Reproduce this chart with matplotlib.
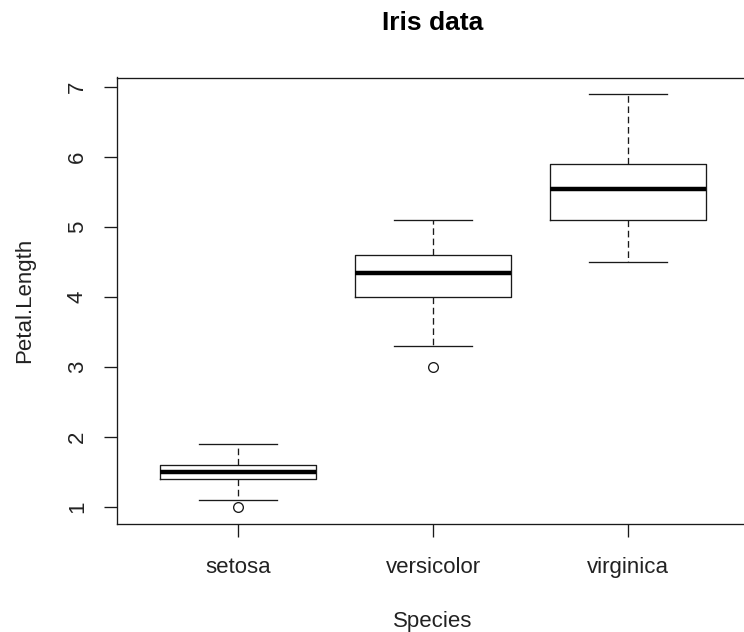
import matplotlib
matplotlib.use("Agg")
import matplotlib.pyplot as plt

species = ["setosa", "versicolor", "virginica"]
whislo = [1.1, 3.3, 4.5]
q1 = [1.4, 4.0, 5.1]
med = [1.5, 4.35, 5.55]
q3 = [1.6, 4.6, 5.9]
whishi = [1.9, 5.1, 6.9]
fliers = [[1.0], [3.0], []]
yticks = [1, 2, 3, 4, 5, 6, 7]

plt.rcParams['font.family'] = ['Liberation Sans', 'DejaVu Sans']

W, H = 744, 632
fig = plt.figure(figsize=(W / 100, H / 100), dpi=100)
left, right, top, bottom = 117, 749, 77.5, 523.5
ax = fig.add_axes([left / W, 1 - bottom / H, (right - left) / W, (bottom - top) / H])

stats = []
for i, s in enumerate(species):
    stats.append(dict(label=s, whislo=whislo[i], q1=q1[i], med=med[i], q3=q3[i],
                      whishi=whishi[i], fliers=fliers[i]))

lc = '#1a1a1a'
lw = 0.95
ax.bxp(stats, positions=[1, 2, 3], widths=0.8, showfliers=True, patch_artist=False,
       boxprops=dict(color=lc, linewidth=lw),
       medianprops=dict(color='black', linewidth=3.2, solid_capstyle='butt'),
       whiskerprops=dict(color=lc, linewidth=lw, linestyle=(0, (5, 2.8))),
       capprops=dict(color=lc, linewidth=lw),
       capwidths=0.4,
       flierprops=dict(marker='o', markerfacecolor='none', markeredgecolor=lc,
                       markersize=7, markeredgewidth=lw))

ax.set_xlim(0.38, 3.62)
ax.set_ylim(0.764, 7.136)
ax.set_xticks([1, 2, 3])
ax.set_xticklabels(species)
ax.set_yticks(yticks)
ax.set_yticklabels([str(v) for v in yticks], rotation=90, va='center')

for sp in ax.spines.values():
    sp.set_color(lc)
    sp.set_linewidth(lw)

fs = 16
ax.tick_params(axis='both', direction='out', length=9.5, width=lw, color=lc,
               labelsize=fs, labelcolor='#222222')
ax.tick_params(axis='x', pad=14.5)
ax.tick_params(axis='y', pad=11.5)

fig.text(433 / W, 1 - 23 / H, "Iris data", ha='center', va='center',
         fontsize=19, fontweight='bold', color='black')
fig.text(433 / W, 1 - 621 / H, "Species", ha='center', va='center',
         fontsize=fs, color='#222222')
fig.text(25 / W, 1 - 300 / H, "Petal.Length", ha='center', va='center',
         rotation=90, fontsize=fs, color='#222222')

fig.savefig("out.png", dpi=100)
